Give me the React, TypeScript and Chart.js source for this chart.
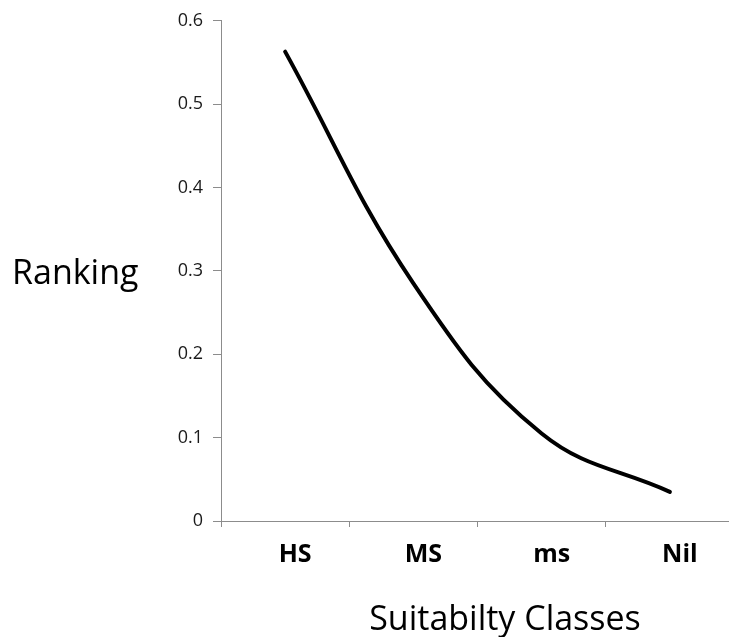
import React, { useEffect, useRef } from "react";
import { Chart, registerables } from "chart.js";

Chart.register(...registerables);

const categories = ["HS", "MS", "ms", "Nil"];
const ranking = [0.563, 0.285, 0.105, 0.035];
const yMin = 0;
const yMax = 0.6;
const yStep = 0.1;
const yTitle = "Ranking";
const xTitle = "Suitabilty Classes";

const axisTitles = {
  id: "axisTitles",
  afterDraw(chart: any) {
    const ctx = chart.ctx;
    ctx.save();
    ctx.fillStyle = "#000";
    ctx.font = '34px "Open Sans"';
    ctx.textBaseline = "alphabetic";
    ctx.textAlign = "left";
    ctx.fillText(yTitle, 12, 284);
    ctx.textAlign = "center";
    ctx.fillText(xTitle, 505, 630);
    ctx.restore();
  },
};

export default function App() {
  const ref = useRef<HTMLCanvasElement>(null);
  useEffect(() => {
    if (!ref.current) return;
    const chart = new Chart(ref.current, {
      type: "line",
      data: {
        labels: categories,
        datasets: [
          {
            data: ranking,
            borderColor: "#000",
            borderWidth: 4,
            borderCapStyle: "round",
            tension: 0.4,
            pointRadius: 0,
            fill: false,
          },
        ],
      },
      options: {
        responsive: false,
        animation: false,
        layout: { padding: { top: 19, left: 0, right: 6, bottom: 0 } },
        plugins: { legend: { display: false }, tooltip: { enabled: false } },
        scales: {
          x: {
            type: "category",
            offset: true,
            grid: { offset: true, drawOnChartArea: false, tickLength: 6, color: "#8c8c8c" },
            border: { color: "#8c8c8c", width: 1 },
            ticks: {
              font: { family: "Open Sans", size: 25, weight: "bold" },
              color: "#000",
              padding: 13,
              labelOffset: 10,
              maxRotation: 0,
              autoSkip: false,
            },
            afterFit: (s: any) => {
              s.height = 116;
            },
          },
          y: {
            min: yMin,
            max: yMax,
            grid: { drawOnChartArea: false, tickLength: 8, color: "#8c8c8c" },
            border: { color: "#8c8c8c", width: 1 },
            ticks: {
              stepSize: yStep,
              font: { family: "Open Sans", size: 18 },
              color: "#1a1a1a",
              padding: 10,
            },
            afterFit: (s: any) => {
              s.width = 221;
            },
          },
        },
      },
      plugins: [axisTitles],
    });
    return () => chart.destroy();
  }, []);
  return (
    <div
      style={{
        position: "fixed",
        left: 0,
        top: 0,
        width: 729,
        height: 637,
        overflow: "hidden",
        background: "#fff",
      }}
    >
      <canvas ref={ref} width={740} height={637} style={{ display: "block" }} />
    </div>
  );
}
